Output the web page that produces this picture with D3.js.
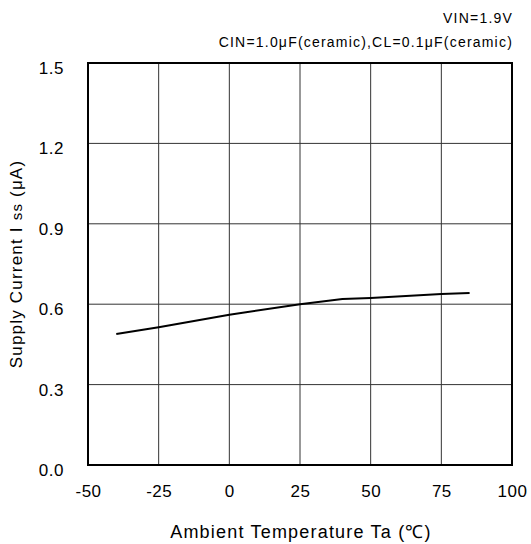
<!DOCTYPE html>
<html>
<head>
<meta charset="utf-8">
<script src="https://cdn.jsdelivr.net/npm/d3@7"></script>
<style>
  body { margin: 0; background: #fff; }
  text { font-family: "Liberation Sans", Arial, sans-serif; fill: #000; }
</style>
</head>
<body>
<svg id="chart" width="531" height="544"></svg>
<script>
const temps = [-40, -25, 0, 25, 40, 50, 75, 85];
const current = [0.489, 0.514, 0.561, 0.600, 0.619, 0.623, 0.638, 0.642];
const xTicks = [-50, -25, 0, 25, 50, 75, 100];
const yTicks = [0.0, 0.3, 0.6, 0.9, 1.2, 1.5];

const margin = { top: 63, right: 19, bottom: 79, left: 88 },
  width = 531,
  height = 544;

const svg = d3.select('#chart');

const x = d3.scaleLinear().domain([-50, 100]).range([margin.left, width - margin.right]);
const y = d3.scaleLinear().domain([0, 1.5]).range([height - margin.bottom, margin.top]);

// grid
svg.append('g')
  .selectAll('line')
  .data(xTicks.slice(1, -1))
  .join('line')
  .attr('x1', d => x(d)).attr('x2', d => x(d))
  .attr('y1', y(0)).attr('y2', y(1.5))
  .attr('stroke', '#333').attr('stroke-width', 1);

svg.append('g')
  .selectAll('line')
  .data(yTicks.slice(1, -1))
  .join('line')
  .attr('x1', x(-50)).attr('x2', x(100))
  .attr('y1', d => y(d)).attr('y2', d => y(d))
  .attr('stroke', '#333').attr('stroke-width', 1);

// tick labels via d3 axes
svg.append('g')
  .attr('transform', `translate(0,${y(0)})`)
  .call(d3.axisBottom(x).tickValues(xTicks).tickSize(0).tickPadding(20).tickFormat(d => String(d)))
  .call(g => g.select('.domain').remove())
  .selectAll('text')
  .attr('font-size', 17)
  .attr('letter-spacing', 0.5)
  .attr('font-family', '"Liberation Sans", Arial, sans-serif');

svg.append('g')
  .attr('transform', `translate(${x(-50)},0)`)
  .call(d3.axisLeft(y).tickValues(yTicks).tickSize(0).tickPadding(24).tickFormat(d3.format('.1f')))
  .call(g => g.select('.domain').remove())
  .selectAll('text')
  .attr('dy', '0.62em')
  .attr('font-size', 17)
  .attr('letter-spacing', 0.5)
  .attr('font-family', '"Liberation Sans", Arial, sans-serif');

// frame
svg.append('rect')
  .attr('x', x(-50)).attr('y', y(1.5))
  .attr('width', x(100) - x(-50)).attr('height', y(0) - y(1.5))
  .attr('fill', 'none').attr('stroke', '#000').attr('stroke-width', 2);

// line
svg.append('path')
  .datum(temps.map((t, i) => [t, current[i]]))
  .attr('fill', 'none')
  .attr('stroke', '#000')
  .attr('stroke-width', 2)
  .attr('d', d3.line().x(d => x(d[0])).y(d => y(d[1])));

// titles
svg.append('text')
  .attr('x', x(100) + 1).attr('y', 23)
  .attr('text-anchor', 'end').attr('font-size', 14).attr('letter-spacing', 1.2)
  .text('VIN=1.9V');
svg.append('text')
  .attr('x', x(100) + 1).attr('y', 47)
  .attr('text-anchor', 'end').attr('font-size', 14).attr('letter-spacing', 1.2)
  .text('CIN=1.0μF(ceramic),CL=0.1μF(ceramic)');

svg.append('text')
  .attr('x', 301).attr('y', 538)
  .attr('text-anchor', 'middle').attr('font-size', 18).attr('letter-spacing', 1.2)
  .text('Ambient Temperature Ta (℃)');

const yt = svg.append('text')
  .attr('transform', `translate(22,${(y(0) + y(1.5)) / 2}) rotate(-90)`)
  .attr('text-anchor', 'middle').attr('font-size', 17).attr('letter-spacing', 1.2);
yt.append('tspan').text('Supply Current I ');
yt.append('tspan').attr('font-size', 15).text('ss');
yt.append('tspan').text(' (μA)');
</script>
</body>
</html>
